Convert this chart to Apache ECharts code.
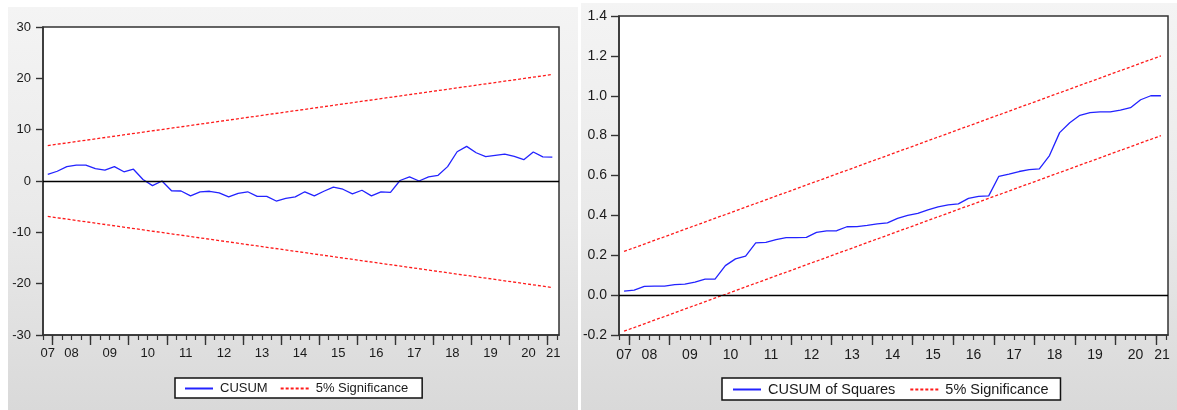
<!DOCTYPE html>
<html>
<head>
<meta charset="utf-8">
<script src="https://cdn.jsdelivr.net/npm/echarts@6/dist/echarts.min.js"></script>
<style>
  html, body { margin: 0; padding: 0; background: #fff; }
  #chart { width: 1177px; height: 410px; }
</style>
</head>
<body>
<div id="chart"></div>
<script>
// Quarterly sample of the recursive-residual tests
const quarters = [
  '2007Q4',
  '2008Q1', '2008Q2', '2008Q3', '2008Q4', '2009Q1', '2009Q2', '2009Q3', '2009Q4',
  '2010Q1', '2010Q2', '2010Q3', '2010Q4', '2011Q1', '2011Q2', '2011Q3', '2011Q4',
  '2012Q1', '2012Q2', '2012Q3', '2012Q4', '2013Q1', '2013Q2', '2013Q3', '2013Q4',
  '2014Q1', '2014Q2', '2014Q3', '2014Q4', '2015Q1', '2015Q2', '2015Q3', '2015Q4',
  '2016Q1', '2016Q2', '2016Q3', '2016Q4', '2017Q1', '2017Q2', '2017Q3', '2017Q4',
  '2018Q1', '2018Q2', '2018Q3', '2018Q4', '2019Q1', '2019Q2', '2019Q3', '2019Q4',
  '2020Q1', '2020Q2', '2020Q3', '2020Q4',
  '2021Q1'
];

// Year tick labels along the bottom axes
const yearLabels = ['07', '08', '09', '10', '11', '12', '13', '14', '15', '16', '17', '18', '19', '20', '21'];

// CUSUM statistic
const cusum = [
  1.3, 1.9, 2.8, 3.1, 3.1, 2.4, 2.1, 2.8, 1.8, 2.3,
  0.3, -0.9, 0.0, -1.9, -1.95, -2.9, -2.1, -2.0, -2.3, -3.1,
  -2.4, -2.1, -3.0, -3.0, -3.9, -3.4, -3.1, -2.1, -2.9, -2.0,
  -1.2, -1.6, -2.5, -1.8, -2.9, -2.1, -2.2, 0.1, 0.8, 0.0,
  0.8, 1.1, 2.8, 5.7, 6.75, 5.5, 4.75, 5.0, 5.25, 4.8,
  4.15, 5.65, 4.7, 4.65
];

// CUSUM of squares statistic
const cusumSq = [
  0.020, 0.025, 0.044, 0.045, 0.045, 0.053, 0.055, 0.065, 0.080, 0.081,
  0.148, 0.182, 0.196, 0.262, 0.265, 0.278, 0.288, 0.288, 0.290, 0.315,
  0.322, 0.323, 0.343, 0.344, 0.350, 0.357, 0.362, 0.385, 0.400, 0.410,
  0.428, 0.443, 0.453, 0.458, 0.485, 0.495, 0.498, 0.596, 0.607, 0.620,
  0.629, 0.633, 0.700, 0.815, 0.865, 0.902, 0.915, 0.919, 0.919, 0.928,
  0.940, 0.980, 1.000, 1.000
];

// 5% significance bounds (straight lines between first and last quarter)
const bandQuarters = ['2007Q4', '2021Q1'];
const cusumUpper = [6.9, 20.75];
const cusumLower = [-6.9, -20.75];
const sqUpper = [0.219, 1.2];
const sqLower = [-0.181, 0.8];

// Quarter -> position on a continuous year scale (middle of the quarter)
function quarterPos(q) {
  const y = parseInt(q.slice(0, 4), 10);
  const n = parseInt(q.slice(5), 10);
  return y + (n - 1) / 4 + 0.125;
}

const X_MIN = 2007.75;
const X_MAX = 2021.3;
const FONT = '"Liberation Sans", Arial, sans-serif';
const INK = '#1a1a1a';
const FRAME = '#333';
const BLUE = '#2323ff';
const RED = '#ff1a1a';

const years = yearLabels.map((_, i) => 2007 + i);
const yearBounds = years.filter(y => y > X_MIN && y < X_MAX);
const quarterBounds = [];
for (let k = 0; X_MIN + k * 0.25 <= X_MAX + 1e-9; k++) quarterBounds.push(+(X_MIN + k * 0.25).toFixed(2));
// Each year label sits in the middle of the visible part of its year
const labelPos = years.map(y => (Math.max(y, X_MIN) + Math.min(y + 1, X_MAX)) / 2);

function xAxesFor(gridIndex, fontSize, margin) {
  return [
    {
      type: 'value', gridIndex, position: 'bottom', min: X_MIN, max: X_MAX,
      axisLine: { show: true, onZero: false, lineStyle: { color: FRAME, width: 1.5 } },
      splitLine: { show: false },
      axisTick: { show: true, length: 10, customValues: yearBounds, lineStyle: { color: FRAME, width: 1.4 } },
      axisLabel: {
        show: true, customValues: labelPos, margin, color: INK, fontSize, fontFamily: FONT,
        formatter: v => yearLabels[Math.floor(v + 1e-6) - 2007]
      }
    },
    {
      type: 'value', gridIndex, position: 'bottom', offset: 0, min: X_MIN, max: X_MAX,
      axisLine: { show: false, onZero: false }, splitLine: { show: false },
      axisTick: { show: true, length: 5, customValues: quarterBounds, lineStyle: { color: FRAME, width: 1.2 } },
      axisLabel: { show: false }
    }
  ];
}

function lineSeries(name, xAxisIndex, yAxisIndex, cats, vals, color, dashed) {
  return {
    name, type: 'line', xAxisIndex, yAxisIndex,
    data: cats.map((q, i) => [quarterPos(q), vals[i]]),
    symbol: 'none', showSymbol: false, animation: false, silent: true,
    lineStyle: { color, width: 1.3, type: dashed ? [3, 2] : 'solid' },
    itemStyle: { color }
  };
}

const zeroLine = {
  silent: true, symbol: 'none', animation: false,
  label: { show: false },
  lineStyle: { color: '#000', width: 1.3, type: 'solid' },
  data: [{ yAxis: 0 }]
};

const panelFill = {
  type: 'linear', x: 0, y: 0, x2: 0, y2: 1,
  colorStops: [
    { offset: 0, color: '#f4f4f4' },
    { offset: 0.5, color: '#eaeaea' },
    { offset: 1, color: '#d9d9d9' }
  ]
};

const s1 = lineSeries('CUSUM', 0, 0, quarters, cusum, BLUE, false);
s1.markLine = zeroLine;
const s4 = lineSeries('CUSUM of Squares', 2, 1, quarters, cusumSq, BLUE, false);
s4.markLine = zeroLine;

const legendBase = {
  orient: 'horizontal', itemWidth: 28, itemHeight: 16, itemGap: 12,
  backgroundColor: '#fff', borderColor: '#111', borderWidth: 1.5, borderRadius: 0,
  itemStyle: { opacity: 0 }, selectedMode: false
};

const option = {
  animation: false,
  backgroundColor: '#fff',
  graphic: [
    { type: 'rect', z: -100, silent: true, shape: { x: 8, y: 7, width: 570, height: 403 }, style: { fill: panelFill } },
    { type: 'rect', z: -100, silent: true, shape: { x: 581, y: 3, width: 596, height: 407 }, style: { fill: panelFill } }
  ],
  grid: [
    { left: 43, top: 27, width: 516, height: 308, show: true, backgroundColor: '#fff', borderColor: FRAME, borderWidth: 1.5, containLabel: false, outerBoundsMode: 'none' },
    { left: 619, top: 16, width: 549, height: 319, show: true, backgroundColor: '#fff', borderColor: FRAME, borderWidth: 1.5, containLabel: false, outerBoundsMode: 'none' }
  ],
  xAxis: [].concat(xAxesFor(0, 13, 12), xAxesFor(1, 14, 13)),
  yAxis: [
    {
      type: 'value', gridIndex: 0, min: -30, max: 30, interval: 10,
      axisLine: { show: true, onZero: false, lineStyle: { color: FRAME, width: 1.5 } },
      axisTick: { show: true, length: 7, lineStyle: { color: FRAME, width: 1.4 } },
      axisLabel: { margin: 12, color: INK, fontSize: 13, fontFamily: FONT },
      splitLine: { show: false }
    },
    {
      type: 'value', gridIndex: 1, min: -0.2, max: 1.4, interval: 0.2,
      axisLine: { show: true, onZero: false, lineStyle: { color: FRAME, width: 1.5 } },
      axisTick: { show: true, length: 8, lineStyle: { color: FRAME, width: 1.4 } },
      axisLabel: { margin: 12, color: INK, fontSize: 14, fontFamily: FONT, formatter: v => v.toFixed(1) },
      splitLine: { show: false }
    }
  ],
  legend: [
    Object.assign({}, legendBase, {
      data: ['CUSUM', '5% Significance'], left: 175, top: 378, padding: [4, 14, 3, 9],
      textStyle: { color: INK, fontSize: 13, fontFamily: FONT, padding: [0, 0, 0, 2] }
    }),
    Object.assign({}, legendBase, {
      data: ['CUSUM of Squares', '5% Significance'], left: 722, top: 378, padding: [4, 12, 3, 10], itemWidth: 28, itemGap: 14,
      textStyle: { color: INK, fontSize: 14.5, fontFamily: FONT, padding: [0, 0, 0, 2] }
    })
  ],
  series: [
    s1,
    lineSeries('5% Significance', 0, 0, bandQuarters, cusumUpper, RED, true),
    lineSeries('5% Significance', 0, 0, bandQuarters, cusumLower, RED, true),
    s4,
    lineSeries('5% Significance', 2, 1, bandQuarters, sqUpper, RED, true),
    lineSeries('5% Significance', 2, 1, bandQuarters, sqLower, RED, true)
  ]
};

const chart = echarts.init(document.getElementById('chart'), null, { renderer: 'canvas' });
chart.setOption(option);
</script>
</body>
</html>
